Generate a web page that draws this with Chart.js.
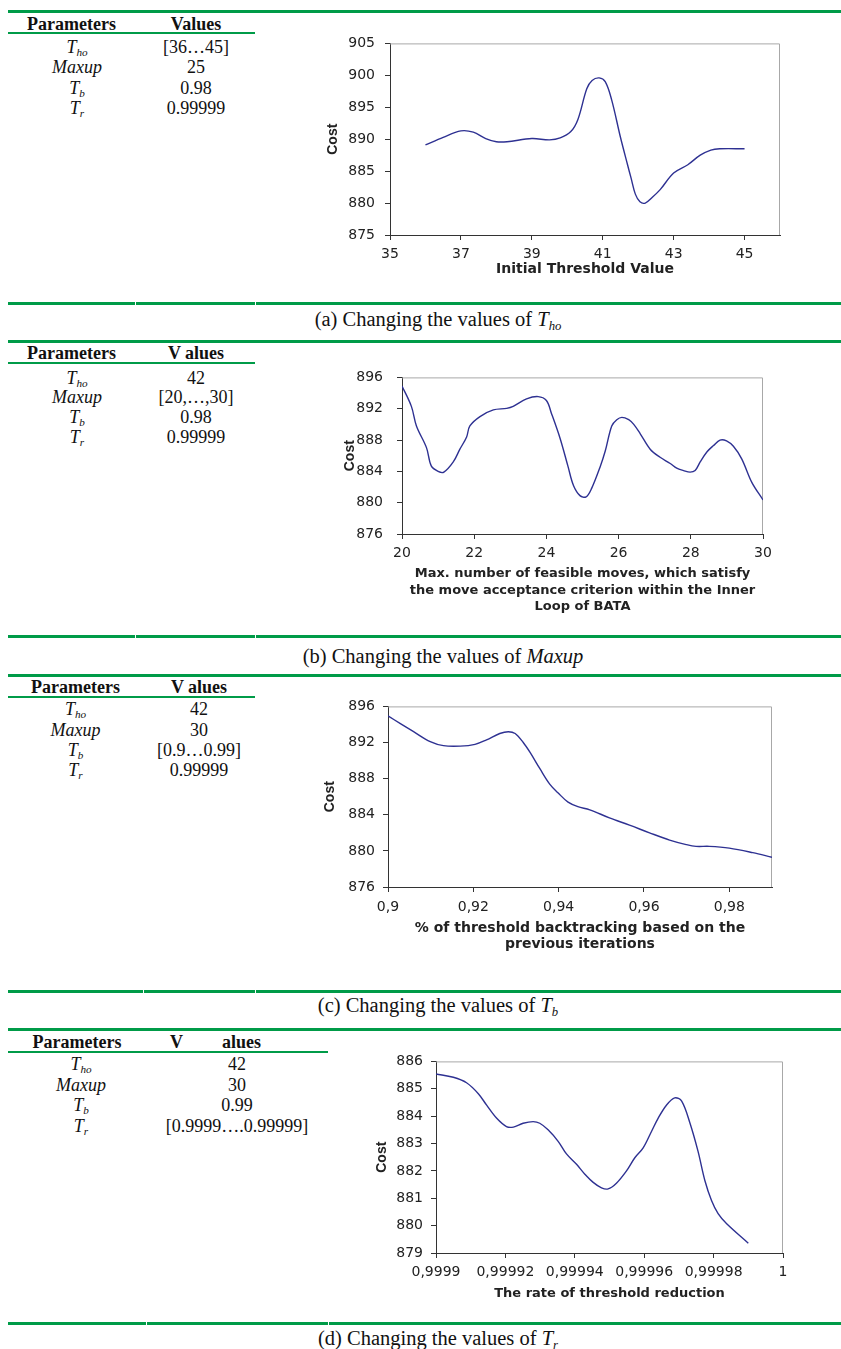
<!DOCTYPE html>
<html>
<head>
<meta charset="utf-8">
<script src="https://cdn.jsdelivr.net/npm/chart.js@4.4.1/dist/chart.umd.min.js"></script>
<style>
  html, body { margin: 0; padding: 0; background: #fff; }
  #page { position: relative; width: 841px; height: 1349px; background: #fff; overflow: hidden;
          font-family: 'Liberation Serif', 'Times New Roman', serif; color: #111; }
  .g { position: absolute; background: #009B48; height: 3px; }
  .t { position: absolute; font-size: 18px; line-height: 20px; text-align: center; white-space: nowrap; }
  .h { font-weight: bold; }
  .i { font-style: italic; }
  .cap { position: absolute; font-size: 20.5px; line-height: 24px; text-align: center; width: 600px; white-space: nowrap; }
  sub { font-size: 0.62em; vertical-align: -0.3em; line-height: 0; font-style: italic; }
  canvas { position: absolute; }
</style>
</head>
<body>
<div id="page">
  <!-- (a) -->
  <div class="g" style="left:8px; top:10px; width:833px;"></div>
  <div class="t h" style="left:8px; top:14px; width:127px;">Parameters</div>
  <div class="t h" style="left:135px; top:14px; width:122px;">Values</div>
  <div class="g" style="left:8px; top:32px; width:247px; height:2px;"></div>
  <div class="t i" style="left:8px; top:37px; width:138px;">T<sub>ho</sub></div>
  <div class="t" style="left:135px; top:37px; width:122px;">[36…45]</div>
  <div class="t i" style="left:8px; top:57px; width:138px;">Maxup</div>
  <div class="t" style="left:135px; top:57px; width:122px;">25</div>
  <div class="t i" style="left:8px; top:78px; width:138px;">T<sub>b</sub></div>
  <div class="t" style="left:135px; top:78px; width:122px;">0.98</div>
  <div class="t i" style="left:8px; top:98px; width:138px;">T<sub>r</sub></div>
  <div class="t" style="left:135px; top:98px; width:122px;">0.99999</div>
  <canvas id="chartA" width="480" height="260" style="left:320px; top:25px;"></canvas>
  <div class="g" style="left:8px; top:302px; width:127px;"></div>
  <div class="g" style="left:136px; top:302px; width:119px;"></div>
  <div class="g" style="left:256px; top:302px; width:585px;"></div>
  <div class="cap" style="left:138px; top:307px;">(a) Changing the values of <i>T</i><sub>ho</sub></div>

  <!-- (b) -->
  <div class="g" style="left:8px; top:340px; width:833px;"></div>
  <div class="t h" style="left:8px; top:343px; width:127px;">Parameters</div>
  <div class="t h" style="left:135px; top:343px; width:122px;">V alues</div>
  <div class="g" style="left:8px; top:362px; width:247px; height:2px;"></div>
  <div class="t i" style="left:8px; top:368px; width:138px;">T<sub>ho</sub></div>
  <div class="t" style="left:135px; top:368px; width:122px;">42</div>
  <div class="t i" style="left:8px; top:387px; width:138px;">Maxup</div>
  <div class="t" style="left:135px; top:387px; width:122px;">[20,…,30]</div>
  <div class="t i" style="left:8px; top:407px; width:138px;">T<sub>b</sub></div>
  <div class="t" style="left:135px; top:407px; width:122px;">0.98</div>
  <div class="t i" style="left:8px; top:427px; width:138px;">T<sub>r</sub></div>
  <div class="t" style="left:135px; top:427px; width:122px;">0.99999</div>
  <canvas id="chartB" width="480" height="265" style="left:320px; top:355px;"></canvas>
  <div class="g" style="left:8px; top:635px; width:127px;"></div>
  <div class="g" style="left:136px; top:635px; width:119px;"></div>
  <div class="g" style="left:256px; top:635px; width:585px;"></div>
  <div class="cap" style="left:143px; top:644px;">(b) Changing the values of <i>Maxup</i></div>

  <!-- (c) -->
  <div class="g" style="left:8px; top:674px; width:833px;"></div>
  <div class="t h" style="left:8px; top:677px; width:135px;">Parameters</div>
  <div class="t h" style="left:143px; top:677px; width:112px;">V alues</div>
  <div class="g" style="left:8px; top:696px; width:247px; height:2px;"></div>
  <div class="t i" style="left:8px; top:699px; width:135px;">T<sub>ho</sub></div>
  <div class="t" style="left:143px; top:699px; width:112px;">42</div>
  <div class="t i" style="left:8px; top:720px; width:135px;">Maxup</div>
  <div class="t" style="left:143px; top:720px; width:112px;">30</div>
  <div class="t i" style="left:8px; top:740px; width:135px;">T<sub>b</sub></div>
  <div class="t" style="left:143px; top:740px; width:112px;">[0.9…0.99]</div>
  <div class="t i" style="left:8px; top:760px; width:135px;">T<sub>r</sub></div>
  <div class="t" style="left:143px; top:760px; width:112px;">0.99999</div>
  <canvas id="chartC" width="490" height="270" style="left:310px; top:690px;"></canvas>
  <div class="g" style="left:8px; top:990px; width:135px;"></div>
  <div class="g" style="left:144px; top:990px; width:111px;"></div>
  <div class="g" style="left:256px; top:990px; width:585px;"></div>
  <div class="cap" style="left:138px; top:993px;">(c) Changing the values of <i>T</i><sub>b</sub></div>

  <!-- (d) -->
  <div class="g" style="left:8px; top:1028px; width:833px;"></div>
  <div class="t h" style="left:8px; top:1032px; width:138px;">Parameters</div>
  <div class="t h" style="left:170px; top:1032px; text-align:left;">V</div>
  <div class="t h" style="left:222px; top:1032px; text-align:left;">alues</div>
  <div class="g" style="left:8px; top:1051px; width:320px; height:2px;"></div>
  <div class="t i" style="left:8px; top:1054px; width:146px;">T<sub>ho</sub></div>
  <div class="t" style="left:146px; top:1054px; width:182px;">42</div>
  <div class="t i" style="left:8px; top:1075px; width:146px;">Maxup</div>
  <div class="t" style="left:146px; top:1075px; width:182px;">30</div>
  <div class="t i" style="left:8px; top:1095px; width:146px;">T<sub>b</sub></div>
  <div class="t" style="left:146px; top:1095px; width:182px;">0.99</div>
  <div class="t i" style="left:8px; top:1116px; width:146px;">T<sub>r</sub></div>
  <div class="t" style="left:146px; top:1116px; width:182px;">[0.9999….0.99999]</div>
  <canvas id="chartD" width="460" height="270" style="left:360px; top:1045px;"></canvas>
  <div class="g" style="left:8px; top:1322px; width:138px;"></div>
  <div class="g" style="left:147px; top:1322px; width:181px;"></div>
  <div class="g" style="left:329px; top:1322px; width:512px;"></div>
  <div class="cap" style="left:138px; top:1326px;">(d) Changing the values of <i>T</i><sub>r</sub></div>
</div>

<script>
// ---------- Data ----------
// (a) Initial threshold value vs cost
const aX = [36, 36.5, 37.0, 37.35, 37.7, 38.0, 38.3, 39.0, 39.5, 39.8, 40.1, 40.3, 40.55, 40.7, 40.9, 41.07, 41.25, 41.5, 41.7, 41.8, 41.92, 42.05, 42.2, 42.4, 42.62, 43.0, 43.4, 43.75, 44.05, 44.3, 45.0];
const aY = [889.1, 890.3, 891.3, 891.1, 890.1, 889.6, 889.6, 890.1, 889.9, 890.2, 891.2, 893.1, 897.9, 899.2, 899.6, 899.0, 896.2, 890.3, 886.0, 883.9, 881.4, 880.2, 880.0, 880.9, 882.1, 884.7, 886.0, 887.5, 888.3, 888.5, 888.5];
const aXTicks = [35, 37, 39, 41, 43, 45];
const aYTicks = [875, 880, 885, 890, 895, 900, 905];

// (b) Maxup vs cost
const bX = [20, 20.26, 20.4, 20.68, 20.81, 21.0, 21.16, 21.42, 21.6, 21.79, 21.88, 22.16, 22.53, 22.9, 23.08, 23.45, 23.77, 24.0, 24.14, 24.38, 24.6, 24.75, 24.93, 25.1, 25.25, 25.49, 25.63, 25.81, 25.95, 26.09, 26.28, 26.42, 26.6, 26.88, 27.15, 27.43, 27.61, 27.8, 27.98, 28.12, 28.26, 28.45, 28.63, 28.81, 28.99, 29.18, 29.41, 29.69, 30];
const bY = [894.9, 892.3, 889.8, 887.0, 884.7, 884.0, 883.9, 885.2, 886.8, 888.4, 889.8, 891.0, 891.85, 892.05, 892.3, 893.25, 893.55, 893.05, 891.4, 888.2, 884.6, 882.2, 880.9, 880.75, 881.8, 884.6, 886.6, 889.8, 890.6, 890.9, 890.6, 890.0, 888.8, 886.8, 885.8, 885.0, 884.4, 884.1, 883.9, 884.1, 885.2, 886.5, 887.3, 888.0, 887.9, 887.2, 885.6, 882.6, 880.35];
const bXTicks = [20, 22, 24, 26, 28, 30];
const bYTicks = [876, 880, 884, 888, 892, 896];

// (c) Tb vs cost
const cX = [0.9, 0.9029, 0.906, 0.9099, 0.913, 0.9169, 0.9204, 0.9231, 0.9262, 0.9282, 0.9298, 0.9317, 0.9333, 0.9356, 0.9379, 0.9399, 0.9422, 0.9445, 0.9473, 0.9519, 0.9566, 0.9613, 0.966, 0.9699, 0.9722, 0.9753, 0.98, 0.9855, 0.99];
const cY = [894.95, 894.1, 893.2, 892.1, 891.65, 891.6, 891.8, 892.3, 893.0, 893.2, 893.0, 892.0, 890.9, 889.1, 887.4, 886.4, 885.4, 884.9, 884.55, 883.65, 882.85, 882.0, 881.2, 880.7, 880.5, 880.5, 880.3, 879.8, 879.3];
const cXTicks = [0.9, 0.92, 0.94, 0.96, 0.98];
const cXLabels = ['0,9', '0,92', '0,94', '0,96', '0,98'];
const cYTicks = [876, 880, 884, 888, 892, 896];

// (d) Tr vs cost
const dX = [0.99990, 0.999905, 0.9999088, 0.9999122, 0.9999146, 0.9999175, 0.9999203, 0.9999223, 0.9999251, 0.999928, 0.9999299, 0.9999323, 0.9999352, 0.9999376, 0.9999405, 0.9999429, 0.9999453, 0.9999477, 0.9999496, 0.999952, 0.9999549, 0.9999573, 0.9999597, 0.9999621, 0.999964, 0.9999664, 0.9999688, 0.9999708, 0.9999732, 0.9999755, 0.9999775, 0.9999794, 0.9999813, 0.9999837, 0.99999];
const dY = [885.54, 885.42, 885.22, 884.82, 884.4, 883.92, 883.62, 883.6, 883.74, 883.8, 883.74, 883.5, 883.08, 882.62, 882.24, 881.88, 881.58, 881.38, 881.34, 881.55, 882.0, 882.48, 882.84, 883.44, 883.92, 884.4, 884.67, 884.55, 883.74, 882.72, 881.64, 880.92, 880.44, 880.08, 879.36];
const dXTicks = [0.9999, 0.99992, 0.99994, 0.99996, 0.99998, 1];
const dXLabels = ['0,9999', '0,99992', '0,99994', '0,99996', '0,99998', '1'];
const dYTicks = [879, 880, 881, 882, 883, 884, 885, 886];

// ---------- Rendering ----------
const frame = {
  id: 'frame',
  beforeDatasetsDraw(chart) {
    const {ctx, chartArea: a} = chart;
    ctx.save();
    ctx.strokeStyle = '#A8A8A8';
    ctx.lineWidth = 1;
    ctx.beginPath();
    ctx.moveTo(a.left, a.top + 0.5);
    ctx.lineTo(a.right - 0.5, a.top + 0.5);
    ctx.lineTo(a.right - 0.5, a.bottom);
    ctx.stroke();
    ctx.restore();
  }
};

function makeChart(id, cfg) {
  const pts = cfg.x.map((v, i) => ({x: v, y: cfg.y[i]}));
  const tickFont = {family: 'DejaVu Sans', size: 14};
  new Chart(document.getElementById(id), {
    type: 'line',
    data: { datasets: [{
      data: pts, borderColor: '#2E3192', borderWidth: 1.4, pointRadius: 0,
      fill: false, tension: 0.35
    }]},
    options: {
      responsive: false, animation: false, devicePixelRatio: 1,
      layout: { padding: {left: 0, top: cfg.padTop, right: cfg.padRight, bottom: 0} },
      plugins: { legend: {display: false}, tooltip: {enabled: false} },
      scales: {
        x: {
          type: 'linear', min: cfg.xMin, max: cfg.xMax,
          afterBuildTicks: s => { s.ticks = cfg.xTicks.map(v => ({value: v})); },
          afterFit: s => { s.height = cfg.xH; },
          ticks: { font: tickFont, color: '#222', padding: cfg.xTickPad, maxRotation: 0, autoSkip: false,
                   callback: (v, i) => cfg.xLabels ? cfg.xLabels[i] : String(v) },
          grid: { drawOnChartArea: false, drawTicks: true, tickLength: 5, color: '#333' },
          border: { display: true, color: '#333', width: 1 },
          title: { display: true, text: cfg.xTitle, color: '#222',
                   font: {family: 'DejaVu Sans', weight: 'bold', size: cfg.xTitleSize, lineHeight: cfg.xTitleLH},
                   padding: {top: 0, bottom: cfg.xTitlePad} }
        },
        y: {
          type: 'linear', min: cfg.yMin, max: cfg.yMax,
          afterBuildTicks: s => { s.ticks = cfg.yTicks.map(v => ({value: v})); },
          afterFit: s => { s.width = cfg.yW; },
          ticks: { font: tickFont, color: '#222', padding: cfg.yTickPad, autoSkip: false,
                   callback: v => String(v) },
          grid: { drawOnChartArea: false, drawTicks: true, tickLength: 5, color: '#333' },
          border: { display: true, color: '#333', width: 1 },
          title: { display: true, text: 'Cost', color: '#222',
                   font: {family: 'Liberation Sans', weight: 'bold', size: 14, lineHeight: 1.2},
                   padding: {top: cfg.yTitlePad, bottom: 0} }
        }
      }
    },
    plugins: [frame]
  });
}

makeChart('chartA', {
  x: aX, y: aY, xMin: 35, xMax: 46, yMin: 875, yMax: 905, xTicks: aXTicks, yTicks: aYTicks,
  padTop: 14, padRight: 20, yW: 70, xH: 50, xTickPad: 6, yTickPad: 10,
  xTitle: 'Initial Threshold Value', xTitleSize: 14, xTitleLH: 1.2, xTitlePad: 7, yTitlePad: 5
});
makeChart('chartB', {
  x: bX, y: bY, xMin: 20, xMax: 30, yMin: 876, yMax: 896, xTicks: bXTicks, yTicks: bYTicks,
  padTop: 14, padRight: 37, yW: 82, xH: 86, xTickPad: 6, yTickPad: 14,
  xTitle: ['Max. number of feasible moves, which satisfy', 'the move acceptance criterion within the Inner', 'Loop of BATA'],
  xTitleSize: 13, xTitleLH: 1.27, xTitlePad: 4.7, yTitlePad: 22
});
makeChart('chartC', {
  x: cX, y: cY, xMin: 0.9, xMax: 0.99, yMin: 876, yMax: 896, xTicks: cXTicks, xLabels: cXLabels, yTicks: cYTicks,
  padTop: 13, padRight: 28, yW: 78, xH: 73, xTickPad: 7, yTickPad: 8,
  xTitle: ['% of threshold backtracking based on the', 'previous iterations'],
  xTitleSize: 14, xTitleLH: 1.2, xTitlePad: 6.8, yTitlePad: 12
});
makeChart('chartD', {
  x: dX, y: dY, xMin: 0.9999, xMax: 1, yMin: 879, yMax: 886, xTicks: dXTicks, xLabels: dXLabels, yTicks: dYTicks,
  padTop: 14, padRight: 37, yW: 76, xH: 62, xTickPad: 6, yTickPad: 8,
  xTitle: 'The rate of threshold reduction', xTitleSize: 13, xTitleLH: 1.2, xTitlePad: 13.2, yTitlePad: 14
});
</script>
</body>
</html>
